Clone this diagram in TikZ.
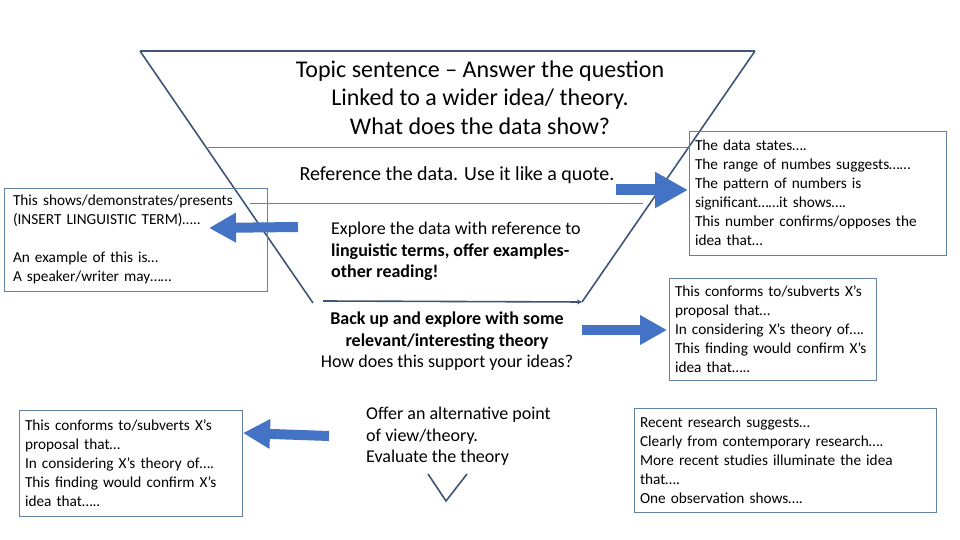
\documentclass[tikz,border=0pt]{standalone}
\usepackage{fontspec}
\setmainfont{Carlito}
\usetikzlibrary{arrows.meta}
\definecolor{funnelblue}{HTML}{3F5479}
\definecolor{dividerblue}{HTML}{6A7F9A}
\definecolor{boxblue}{HTML}{6381A3}
\definecolor{arrowblue}{HTML}{4472C4}

\begin{document}
\begin{tikzpicture}[x=1pt, y=1pt,
  funnel/.style={draw=funnelblue, line width=1.6pt},
  divider/.style={draw=dividerblue, line width=0.8pt},
  infobox/.style={draw=boxblue, line width=0.9pt, align=left, inner xsep=6pt, inner ysep=0pt, font=\fontsize{15.3}{19}\selectfont},
  stage/.style={inner sep=0pt, font=\fontsize{18}{21.5}\selectfont},
  fatarrow/.style={arrowblue, line width=10pt, -{Triangle[length=27pt, width=28pt]}}]
\useasboundingbox (0,0) rectangle (960,540);

% Funnel outline
\draw[funnel] (140,489) -- (755,489);
\draw[funnel] (140,489) -- (313,237);
\draw[funnel] (755,489) -- (582,238);
\draw[funnel, -{Stealth[length=5pt, width=5pt]}] (323,239) -- (582,238);
\draw[funnel] (428,66) -- (446,39) -- (467,66);

% Dividing lines
\draw[divider] (208,393) -- (690,393);
\draw[divider] (250,337) -- (643,337);

% Stages of the paragraph
\node[stage, align=center, font=\fontsize{24}{28.5}\selectfont] (topic) at (480,442.5) {Topic sentence -- Answer the question\\Linked to a wider idea/ theory.\\What does the data show?};
\node[stage, font=\fontsize{20}{24}\selectfont] (refdata) at (457,365) {Reference the data. Use it like a quote.};
\node[stage, align=left, anchor=west] (explore) at (331,288.5) {Explore the data with reference to\\\textbf{linguistic terms, offer examples-}\\\textbf{other reading!}};
\node[stage, align=center] (backup) at (447,198.5) {\textbf{Back up and explore with some}\\\textbf{relevant/interesting theory}\\How does this support your ideas?};
\node[stage, align=left, anchor=west] (offer) at (366,103.5) {Offer an alternative point\\of view/theory.\\Evaluate the theory};

% Sentence starter boxes
\node[infobox, inner xsep=9pt, text width=245pt, minimum height=103pt] (shows) at (135.5,300.5) {This shows/demonstrates/presents\\(INSERT LINGUISTIC TERM)…..\\~\\An example of this is…\\A speaker/writer may……};
\node[infobox, text width=245pt, minimum height=124pt] (states) at (817.5,347) {The data states….\\The range of numbes suggests……\\The pattern of numbers is\\significant……it shows….\\This number confirms/opposes the\\idea that…};
\node[infobox, text width=195pt, minimum height=102pt] (conformsR) at (772.5,211) {This conforms to/subverts X’s\\proposal that…\\In considering X’s theory of….\\This finding would confirm X’s\\idea that…..};
\node[infobox, text width=290pt, minimum height=104pt] (recent) at (785,80) {Recent research suggests…\\Clearly from contemporary research….\\More recent studies illuminate the idea\\that….\\One observation shows….};
\node[infobox, text width=211pt, minimum height=106pt] (conformsL) at (130.5,77) {This conforms to/subverts X’s\\proposal that…\\In considering X’s theory of….\\This finding would confirm X’s\\idea that…..};

% Arrows to the boxes
\coordinate (showsTail) at (298,313);
\coordinate (showsTip) at (209,312);
\coordinate (statesTail) at (616,350);
\coordinate (statesTip) at (688,350);
\coordinate (conformsRTail) at (582,210);
\coordinate (conformsRTip) at (667,210);
\coordinate (conformsLTail) at (329,104);
\coordinate (conformsLTip) at (243,107);
\draw[fatarrow] (showsTail) -- (showsTip);
\draw[fatarrow, line width=11pt, -{Triangle[length=33pt, width=34pt]}] (statesTail) -- (statesTip);
\draw[fatarrow] (conformsRTail) -- (conformsRTip);
\draw[fatarrow] (conformsLTail) -- (conformsLTip);
\end{tikzpicture}
\end{document}
